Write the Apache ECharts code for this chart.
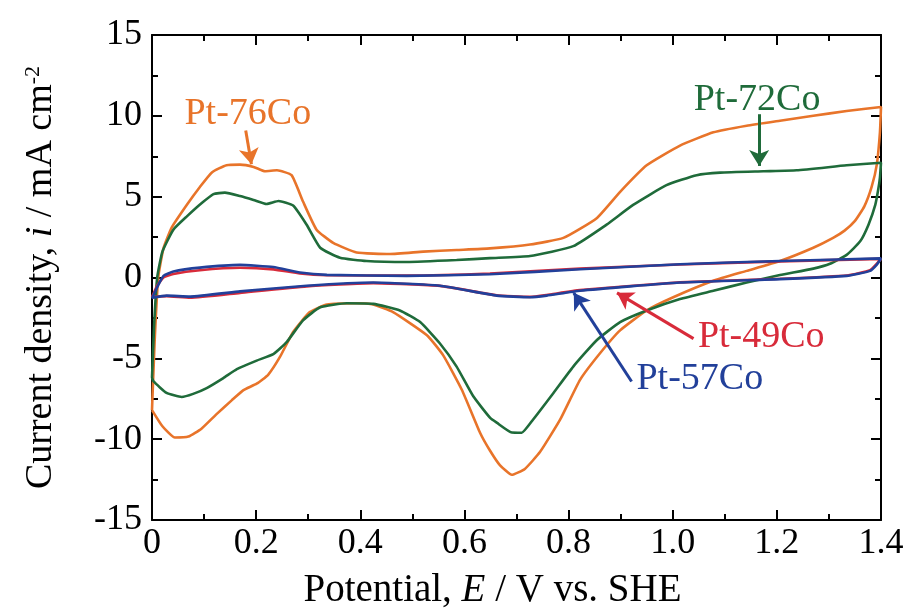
<!DOCTYPE html>
<html>
<head>
<meta charset="utf-8">
<script src="https://cdn.jsdelivr.net/npm/echarts@6/dist/echarts.min.js"></script>
<style>
  body { margin: 0; background: #fff; }
  #chart { width: 910px; height: 615px; }
</style>
</head>
<body>
<div id="chart"></div>
<script>
// potential (V vs SHE) and current density (mA cm-2), full cycle: anodic then cathodic
const pt76co = [
  [0, -8.2], [0.005, -4], [0.012, 0], [0.022, 1.8], [0.038, 3.1], [0.067, 4.5], [0.092, 5.6],
  [0.115, 6.5], [0.143, 6.95], [0.169, 6.98], [0.195, 6.84], [0.217, 6.57], [0.24, 6.63],
  [0.268, 6.33], [0.29, 4.7], [0.316, 2.96], [0.348, 2.14], [0.393, 1.55], [0.457, 1.45],
  [0.521, 1.6], [0.585, 1.7], [0.649, 1.8], [0.726, 2.04], [0.79, 2.45], [0.854, 3.67],
  [0.899, 5.3], [0.95, 6.94], [1.014, 8.16], [1.078, 8.98], [1.142, 9.39], [1.206, 9.7],
  [1.27, 10.0], [1.334, 10.3], [1.4, 10.55],
  [1.398, 9.0], [1.392, 7.0], [1.382, 5.6], [1.368, 4.4], [1.35, 3.5], [1.33, 2.9],
  [1.308, 2.45], [1.27, 1.84], [1.206, 1.02], [1.142, 0.41], [1.078, -0.2], [1.001, -1.22],
  [0.95, -2.04], [0.899, -3.27], [0.86, -4.7], [0.822, -6.33], [0.784, -8.78], [0.745, -10.8],
  [0.716, -11.84], [0.691, -12.2], [0.668, -11.6], [0.649, -10.7], [0.63, -9.6], [0.595, -6.94],
  [0.559, -4.8], [0.528, -3.57], [0.463, -2.14], [0.425, -1.67], [0.393, -1.59], [0.336, -1.67],
  [0.303, -2.14], [0.271, -3.37], [0.246, -4.9], [0.223, -6.02], [0.201, -6.57], [0.175, -6.98],
  [0.153, -7.6], [0.124, -8.45], [0.095, -9.35], [0.07, -9.84], [0.044, -9.9], [0.02, -9.2], [0, -8.2]
];
const pt72co = [
  [0, -6.2], [0.004, -3], [0.01, 0], [0.02, 1.6], [0.041, 2.96], [0.067, 3.78], [0.095, 4.59],
  [0.118, 5.16], [0.14, 5.25], [0.169, 5.04], [0.195, 4.8], [0.22, 4.55], [0.243, 4.73],
  [0.271, 4.45], [0.297, 3.26], [0.323, 1.84], [0.361, 1.22], [0.412, 1.02], [0.489, 0.96],
  [0.585, 1.08], [0.649, 1.2], [0.726, 1.33], [0.809, 1.94], [0.873, 3.27], [0.924, 4.49],
  [0.988, 5.71], [1.046, 6.33], [1.091, 6.49], [1.174, 6.57], [1.238, 6.63], [1.334, 6.94], [1.4, 7.1],
  [1.398, 6.2], [1.395, 5.5], [1.389, 4.49], [1.376, 3.27], [1.36, 2.24], [1.334, 1.4],
  [1.302, 0.85], [1.27, 0.55], [1.206, 0.15], [1.142, -0.31], [1.078, -0.82], [1.014, -1.33],
  [0.95, -2.04], [0.899, -2.76], [0.854, -3.88], [0.809, -5.51], [0.771, -7.14], [0.732, -8.78],
  [0.71, -9.6], [0.691, -9.59], [0.662, -8.98], [0.649, -8.67], [0.617, -7.35], [0.585, -5.51],
  [0.553, -4.08], [0.515, -2.76], [0.476, -2.04], [0.425, -1.63], [0.374, -1.59], [0.323, -1.84],
  [0.29, -2.65], [0.259, -3.98], [0.233, -4.74], [0.201, -5.14], [0.163, -5.67], [0.137, -6.22],
  [0.105, -6.84], [0.079, -7.2], [0.057, -7.39], [0.028, -7.14], [0.003, -6.43], [0, -6.2]
];
const pt49co = [
  [0, -1.2], [0.01, -0.5], [0.022, 0.0], [0.041, 0.22], [0.092, 0.45], [0.169, 0.6], [0.233, 0.5],
  [0.284, 0.25], [0.336, 0.14], [0.489, 0.12], [0.649, 0.25], [0.822, 0.55], [1.014, 0.8],
  [1.206, 1.0], [1.4, 1.15],
  [1.392, 0.85], [1.379, 0.45], [1.334, 0.12], [1.206, -0.08], [1.014, -0.3], [0.822, -0.78],
  [0.758, -1.08], [0.726, -1.2], [0.662, -1.1], [0.553, -0.52], [0.425, -0.35], [0.297, -0.55],
  [0.169, -0.95], [0.073, -1.25], [0.028, -1.15], [0, -1.2]
];
const pt57co = [
  [0, -1.3], [0.01, -0.6], [0.022, 0.1], [0.041, 0.37], [0.092, 0.61], [0.169, 0.78], [0.233, 0.65],
  [0.284, 0.31], [0.336, 0.16], [0.489, 0.1], [0.649, 0.2], [0.822, 0.51], [1.014, 0.82],
  [1.206, 1.02], [1.4, 1.18],
  [1.392, 0.8], [1.379, 0.41], [1.334, 0.1], [1.206, -0.1], [1.014, -0.31], [0.822, -0.82],
  [0.758, -1.12], [0.726, -1.22], [0.662, -1.12], [0.553, -0.51], [0.425, -0.31], [0.297, -0.51],
  [0.169, -0.86], [0.073, -1.18], [0.028, -1.12], [0, -1.25]
];

const xTickLabels = ['0', '0.2', '0.4', '0.6', '0.8', '1.0', '1.2', '1.4'];
const yTickLabels = ['-15', '-10', '-5', '0', '5', '10', '15'];

// annotation text and arrows, in data coords
const notes = {
  'Pt-76Co': { text: [0.184, 10.1], from: [0.18, 9.1], to: [0.191, 7.0] },
  'Pt-72Co': { text: [1.162, 10.95], from: [1.166, 10.1], to: [1.166, 6.9] },
  'Pt-49Co': { text: [1.17, -3.7], from: [1.04, -3.78], to: [0.893, -0.95] },
  'Pt-57Co': { text: [1.052, -6.25], from: [0.921, -6.43], to: [0.81, -0.95] }
};

const colors = {
  'Pt-76Co': '#e8742a',
  'Pt-72Co': '#1f6b3a',
  'Pt-49Co': '#d82b3a',
  'Pt-57Co': '#22409a'
};

const font = "'Liberation Serif', 'Times New Roman', serif";

const makeSeries = (name, data) => {
  const n = notes[name];
  return {
    name: name,
    type: 'line',
    data: data,
    showSymbol: false,
    smooth: 0.15,
    lineStyle: { color: colors[name], width: 2.6 },
    itemStyle: { color: colors[name] },
    markLine: {
      silent: true,
      symbol: ['none', 'arrow'],
      symbolSize: [15, 16],
      label: { show: false },
      lineStyle: { color: colors[name], width: 3, type: 'solid' },
      data: [[{ coord: n.from }, { coord: n.to }]]
    },
    markPoint: {
      silent: true,
      symbol: 'circle',
      symbolSize: 1,
      itemStyle: { color: 'transparent' },
      label: {
        show: true,
        position: 'inside',
        formatter: name,
        color: colors[name],
        fontSize: 38,
        fontFamily: font
      },
      data: [{ coord: n.text }]
    }
  };
};

const axisLine = { show: true, onZero: false, lineStyle: { color: '#000', width: 2 } };
const axisTick = { show: true, inside: true, length: 10, lineStyle: { color: '#000', width: 2 } };
const minorTick = { show: true, splitNumber: 2, length: 6, lineStyle: { color: '#000', width: 2 } };

const xLabel = (v) => xTickLabels[Math.round(v / 0.2)];
const yLabel = (v) => yTickLabels[Math.round((v + 15) / 5)];

const chart = echarts.init(document.getElementById('chart'));
const option = {
  animation: false,
  backgroundColor: '#fff',
  grid: { left: 152, right: 29, top: 35, bottom: 90 },
  xAxis: [
    {
      type: 'value', min: 0, max: 1.4, interval: 0.2, position: 'bottom',
      axisLine, axisTick, minorTick,
      splitLine: { show: false },
      axisLabel: { color: '#000', fontSize: 36, fontFamily: font, margin: 6, formatter: xLabel },
      name: 'Potential, {it|E} / V vs. SHE',
      nameLocation: 'middle',
      nameGap: 51,
      nameTextStyle: {
        color: '#000', fontSize: 39, fontFamily: font,
        padding: [0, 48, 0, 0],
        rich: { it: { fontStyle: 'italic', fontSize: 39, fontFamily: font, color: '#000' } }
      }
    },
    {
      type: 'value', min: 0, max: 1.4, interval: 0.2, position: 'top',
      axisLine, axisTick, minorTick,
      splitLine: { show: false },
      axisLabel: { show: false }
    }
  ],
  yAxis: [
    {
      type: 'value', min: -15, max: 15, interval: 5, position: 'left',
      axisLine, axisTick, minorTick,
      splitLine: { show: false },
      axisLabel: { color: '#000', fontSize: 36, fontFamily: font, margin: 10, formatter: yLabel },
      name: 'Current density, {it|i} / mA cm{sup|-2}',
      nameLocation: 'middle',
      nameGap: 92,
      nameTextStyle: {
        color: '#000', fontSize: 38, fontFamily: font,
        rich: {
          it: { fontStyle: 'italic', fontSize: 38, fontFamily: font, color: '#000' },
          sup: { fontSize: 22, fontFamily: font, color: '#000', verticalAlign: 'top' }
        }
      }
    },
    {
      type: 'value', min: -15, max: 15, interval: 5, position: 'right',
      axisLine, axisTick, minorTick,
      splitLine: { show: false },
      axisLabel: { show: false }
    }
  ],
  series: [
    makeSeries('Pt-76Co', pt76co),
    makeSeries('Pt-72Co', pt72co),
    makeSeries('Pt-49Co', pt49co),
    makeSeries('Pt-57Co', pt57co)
  ]
};
option && chart.setOption(option);
</script>
</body>
</html>
